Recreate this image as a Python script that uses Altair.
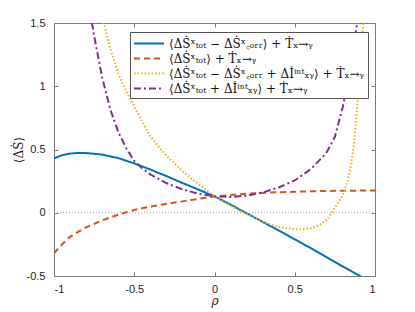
import altair as alt
import pandas as pd

# ---- data ----
labels = [
    "⟨ΔṠˣₜₒₜ − ΔṠˣ꜀ₒᵣᵣ⟩ + Ṫₓ→ᵧ",
    "⟨ΔṠˣₜₒₜ⟩ + Ṫₓ→ᵧ",
    "⟨ΔṠˣₜₒₜ − ΔṠˣ꜀ₒᵣᵣ + Δİⁱⁿᵗₓᵧ⟩ + Ṫₓ→ᵧ",
    "⟨ΔṠˣₜₒₜ + Δİⁱⁿᵗₓᵧ⟩ + Ṫₓ→ᵧ",
]
colors = ["#0072BD", "#D95319", "#EDB120", "#7E2F8E"]
dashes = [[1, 0], [6, 4], [1.5, 2], [7, 3, 2, 3]]

blue_x = [-1, -0.95, -0.9, -0.85, -0.8, -0.7, -0.6, -0.5, -0.4, -0.3, -0.2, -0.1, 0,
          0.1, 0.2, 0.3, 0.4, 0.5, 0.6, 0.7, 0.8, 0.9, 1.0]
blue_y = [0.43, 0.455, 0.468, 0.473, 0.472, 0.46, 0.432, 0.39, 0.342, 0.29, 0.235, 0.183, 0.13,
          0.064, -0.004, -0.072, -0.14, -0.21, -0.28, -0.352, -0.425, -0.495, -0.57]

red_x = [-1, -0.95, -0.9, -0.8, -0.7, -0.6, -0.5, -0.4, -0.3, -0.2, -0.1, 0,
         0.1, 0.2, 0.3, 0.4, 0.5, 0.6, 0.7, 0.8, 0.9, 1.0]
red_y = [-0.32, -0.25, -0.19, -0.115, -0.06, -0.015, 0.022, 0.048, 0.07, 0.09, 0.11, 0.128,
         0.14, 0.15, 0.157, 0.162, 0.166, 0.17, 0.172, 0.174, 0.175, 0.176]

yellow_x = [-0.70, -0.69, -0.65, -0.6, -0.55, -0.5, -0.45, -0.4, -0.35, -0.3, -0.2, -0.1, 0,
            0.1, 0.2, 0.3, 0.4, 0.5, 0.55, 0.6, 0.65, 0.7, 0.73, 0.76, 0.8, 0.83, 0.85, 0.87,
            0.89, 0.91, 0.93]
yellow_y = [1.56, 1.5, 1.3, 1.1, 0.96, 0.84, 0.72, 0.605, 0.525, 0.452, 0.33, 0.225, 0.13,
            0.055, -0.01, -0.07, -0.112, -0.13, -0.132, -0.124, -0.1, -0.055, 0.0, 0.06, 0.14,
            0.25, 0.37, 0.55, 0.85, 1.2, 1.55]

purple_x = [-0.78, -0.75, -0.72, -0.7, -0.65, -0.6, -0.55, -0.5, -0.45, -0.4, -0.3, -0.2, -0.1,
            0, 0.1, 0.2, 0.3, 0.4, 0.5, 0.6, 0.65, 0.7, 0.75, 0.8, 0.85, 0.9]
purple_y = [1.62, 1.4, 1.2, 1.07, 0.82, 0.64, 0.51, 0.41, 0.35, 0.303, 0.235, 0.185, 0.15,
            0.13, 0.125, 0.135, 0.16, 0.2, 0.255, 0.345, 0.41, 0.48, 0.6, 0.84, 1.17, 1.6]

zero_x = [-1, 1]
zero_y = [0, 0]

x_ticks = [-1, -0.5, 0, 0.5, 1]
y_ticks = [-0.5, 0, 0.5, 1, 1.5]

# ---- build tables ----
rows = []
for lab, xs, ys in zip(labels, [blue_x, red_x, yellow_x, purple_x],
                       [blue_y, red_y, yellow_y, purple_y]):
    for i, (a, b) in enumerate(zip(xs, ys)):
        rows.append({"rho": a, "val": b, "series": lab, "order": i})
df = pd.DataFrame(rows)
zdf = pd.DataFrame({"rho": zero_x, "val": zero_y})

xscale = alt.Scale(domain=[-1, 1], nice=False, zero=False)
yscale = alt.Scale(domain=[-0.5, 1.5], nice=False, zero=False)

tick_len = 4
label_font = "Liberation Sans"

zero = alt.Chart(zdf).mark_line(color="#9a9a9a", strokeWidth=1, strokeDash=[1, 2]).encode(
    x=alt.X("rho:Q", scale=xscale,
            axis=alt.Axis(values=x_ticks, orient="bottom", offset=-tick_len, tickSize=tick_len,
                          labelPadding=tick_len + 3, domain=False, grid=False,
                          labelExpr="'' + datum.value", title="ρ",
                          titleFont="DejaVu Serif", titleFontStyle="italic",
                          titleFontWeight="normal", titleFontSize=12, titlePadding=1)),
    y=alt.Y("val:Q", scale=yscale,
            axis=alt.Axis(values=y_ticks, orient="left", offset=-tick_len, tickSize=tick_len,
                          labelPadding=tick_len + 5, domain=False, grid=False,
                          labelExpr="'' + datum.value", title="⟨ΔṠ⟩",
                          titleFont="DejaVu Serif", titleFontWeight="normal",
                          titleFontSize=12, titlePadding=1)),
)

lines = alt.Chart(df).mark_line(strokeWidth=2, clip=True).encode(
    x=alt.X("rho:Q", scale=xscale,
            axis=alt.Axis(values=x_ticks, orient="top", offset=-tick_len, tickSize=tick_len,
                          labels=False, domain=False, grid=False, title=None)),
    y=alt.Y("val:Q", scale=yscale,
            axis=alt.Axis(values=y_ticks, orient="right", offset=-tick_len, tickSize=tick_len,
                          labels=False, domain=False, grid=False, title=None)),
    color=alt.Color("series:N", sort=labels,
                    scale=alt.Scale(domain=labels, range=colors),
                    legend=alt.Legend(title=None, orient="none", legendX=76, legendY=9)),
    strokeDash=alt.StrokeDash("series:N", sort=labels,
                              scale=alt.Scale(domain=labels, range=dashes), legend=None),
    order="order:Q",
)

chart = alt.layer(zero, lines).resolve_axis(x="independent", y="independent").properties(
    width=321, height=253,
    autosize=alt.AutoSizeParams(type="none"),
    padding={"left": 46, "top": 15, "right": 30, "bottom": 34},
).configure_view(stroke="#7a7a7a", strokeWidth=1).configure_axis(
    labelFont=label_font, labelFontSize=11, labelColor="#262626",
    tickColor="#7a7a7a", titleColor="#262626",
).configure_legend(
    labelFont="DejaVu Serif", labelFontSize=12, labelColor="#111",
    symbolType="M-1,0H3", symbolSize=225, symbolStrokeWidth=2,
    symbolFillColor="transparent",
    strokeColor="#555", fillColor="white", padding=3, rowPadding=0,
    labelOffset=19, labelLimit=400, cornerRadius=0,
)

chart.save("out.html", embed_options={"renderer": "svg", "actions": False})
